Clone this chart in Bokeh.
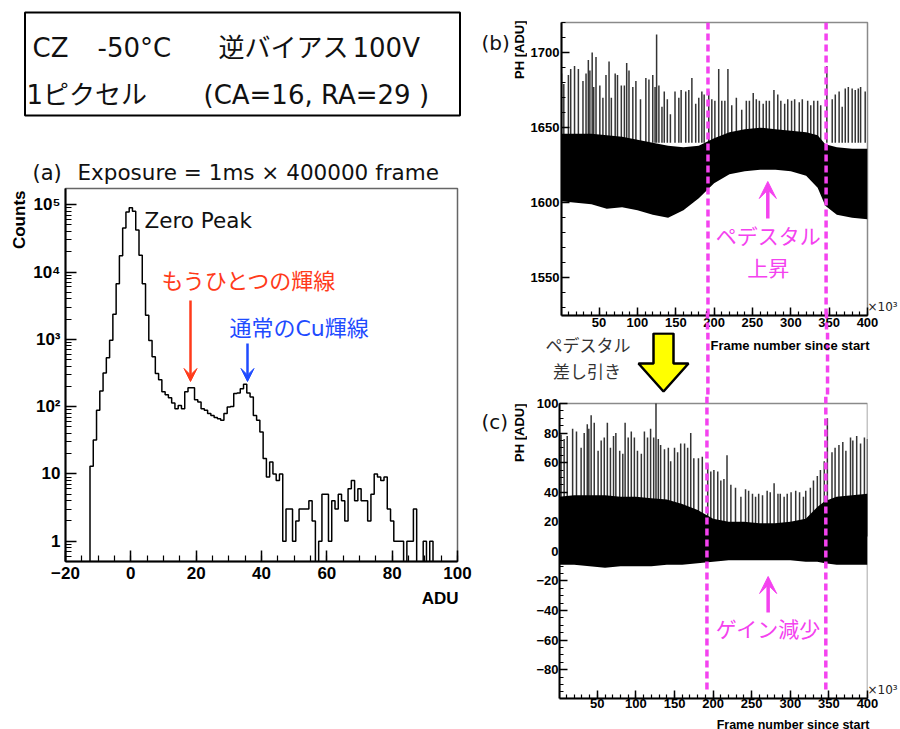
import math
from bokeh.plotting import figure
from bokeh.models import (Range1d, Label, Arrow, VeeHead, SingleIntervalTicker, LogTicker,
                          CustomJSTickFormatter, FixedTicker, LinearAxis, LinearScale)
from bokeh.layouts import row, column
from bokeh.embed import file_html
from bokeh.resources import INLINE

# ---------------- data ----------------
# (a) histogram: bin centres (ADU, bin width 1) and counts
adu_bins = list(range(-12, 93))
counts = [13, 32, 88, 170, 316, 530, 965, 2350, 6700, 17500, 45000, 78000,
          90000, 80000, 42000, 17700, 6700, 2270, 960, 550, 310, 250,
          166, 150, 135, 113, 93, 104, 93, 166, 191, 191, 127, 117, 93, 88,
          79, 74, 69, 66, 63, 79, 99, 100, 156, 160, 185, 215, 160, 139, 74,
          63, 42, 17, 9, 15, 10, 8, 10, 1, 3, 3, 1, 2, 3, 3, 3, 4, 2, 0, 1,
          5, 5, 1, 4, 3, 5, 4, 2, 6, 8, 4, 6, 4, 4, 2, 5, 10, 9, 8, 9, 3, 2,
          1, 1, 1, 0, 1, 1, 3, 0, 0, 1, 0, 1]
bin_width = 1.0

# (b),(c): envelope of the dense band (frame number in 10^3)
frame_pts = [0, 20, 40, 60, 80, 100, 120, 140, 160, 180, 200, 220, 240, 260,
             280, 300, 320, 335, 345, 360, 380, 400]
b_low = [1601, 1600, 1599, 1596, 1597, 1595, 1592, 1590, 1595, 1603, 1613,
         1619, 1621, 1622, 1622, 1621, 1618, 1610, 1598, 1592, 1590, 1589]
b_high = [1646, 1646, 1646, 1645, 1644, 1642, 1640, 1638, 1637, 1638, 1643,
          1647, 1649, 1650, 1649, 1648, 1647, 1645, 1639, 1637, 1636, 1636]
c_low = [-9, -9, -10, -11, -10, -10, -10, -9, -9, -8, -7, -6, -6, -6, -6, -6,
         -7, -7, -8, -9, -9, -9]
c_high = [37, 38, 38, 38, 37, 37, 36, 35, 32, 28, 22, 20, 20, 19, 19, 20, 22,
          30, 34, 37, 38, 39]

# isolated spikes: (frame, peak)
b_spikes = [(1, 1686), (4, 1679), (10, 1685), (13, 1689), (18, 1691), (23, 1689),
            (29, 1681), (33, 1686), (36, 1695), (38, 1688), (41, 1700), (43, 1677),
            (46, 1697), (51, 1678), (55, 1670), (59, 1685), (63, 1694), (66, 1670),
            (71, 1686), (74, 1685), (79, 1678), (83, 1678), (86, 1693), (89, 1688),
            (94, 1677), (98, 1681), (104, 1669), (111, 1683), (115, 1682), (120, 1685),
            (123, 1677), (125, 1712), (128, 1678), (132, 1664), (135, 1674), (139, 1669),
            (143, 1659), (149, 1674), (154, 1670), (157, 1675), (163, 1674), (167, 1675),
            (171, 1683), (176, 1666), (180, 1670), (184, 1674), (187, 1672), (193, 1674),
            (197, 1669), (201, 1668), (206, 1689), (210, 1668), (214, 1668), (218, 1689),
            (223, 1665), (229, 1670), (236, 1662), (242, 1668), (246, 1668), (251, 1673),
            (255, 1669), (259, 1668), (264, 1666), (268, 1668), (272, 1668), (278, 1675),
            (283, 1672), (287, 1668), (292, 1666), (296, 1669), (301, 1668), (305, 1669),
            (311, 1667), (315, 1669), (322, 1668), (326, 1665), (330, 1668), (335, 1668),
            (339, 1665), (347, 1691), (354, 1669), (358, 1672), (363, 1674), (367, 1664),
            (371, 1676), (375, 1677), (380, 1676), (384, 1675), (388, 1676), (391, 1677),
            (397, 1674)]
c_spikes = [(3, 79), (7, 76), (11, 78), (18, 83), (23, 81), (29, 70), (33, 80), (37, 86),
            (39, 83), (42, 92), (46, 87), (51, 68), (55, 75), (59, 77), (63, 87), (67, 70),
            (71, 78), (74, 80), (79, 68), (83, 66), (86, 87), (90, 77), (94, 81), (98, 77),
            (102, 68), (107, 66), (111, 81), (115, 77), (119, 83), (123, 77), (126, 100),
            (129, 76), (132, 72), (137, 69), (142, 70), (145, 61), (150, 70), (154, 67),
            (158, 73), (163, 73), (167, 70), (171, 80), (175, 63), (181, 63), (186, 64),
            (193, 59), (197, 54), (201, 55), (206, 54), (210, 48), (214, 49), (218, 65),
            (223, 45), (229, 43), (236, 37), (242, 42), (246, 41), (251, 39), (255, 37),
            (259, 39), (264, 38), (270, 41), (274, 40), (279, 46), (284, 39), (287, 39),
            (292, 37), (296, 39), (301, 40), (307, 41), (312, 40), (317, 37), (320, 41),
            (326, 43), (330, 48), (335, 51), (339, 55), (344, 61), (348, 90), (354, 67),
            (358, 70), (363, 72), (368, 74), (372, 68), (378, 77), (381, 75), (386, 78),
            (391, 73), (396, 77), (400, 76)]
shift_frames = [192, 346]   # pedestal change boundaries

# ---------------- style ----------------
ROOT_FONT = "Liberation Sans"
TXT_FONT = "DejaVu Sans, Noto Sans CJK JP"
RED = "#ff3a1a"
BLUE = "#1f4bff"
MAG = "#f442ef"
YEL = "#ffff00"
DASH = "7 4"
LEFT_W = 472
RIGHT_W = 900 - LEFT_W


def prep(p, grid=True):
    if "frame_align" in p.properties():
        p.frame_align = False
    p.title.visible = False
    if not grid:
        p.grid.grid_line_color = None
    p.background_fill_color = "white"
    p.border_fill_color = "white"


def style_axes(p, size, tmaj, tmin, standoff):
    for ax in p.axis:
        ax.major_label_text_font = ROOT_FONT
        ax.major_label_text_font_style = "bold"
        ax.major_label_text_font_size = size
        ax.major_label_text_color = "black"
        ax.major_tick_in = tmaj
        ax.major_tick_out = 0
        ax.minor_tick_in = tmin
        ax.minor_tick_out = 0
        ax.major_tick_line_width = 1.5
        ax.minor_tick_line_width = 1.2
        ax.axis_line_width = 2
        ax.axis_line_color = "black"
        ax.major_label_standoff = standoff
    p.grid.grid_line_color = None
    p.outline_line_color = "#8a8a8a"
    p.outline_line_width = 1.5


def strip(w, h, x0, y0):
    """A plain drawing area whose coordinates are page pixels (y downwards)."""
    s = figure(width=w, height=h, x_range=Range1d(x0, x0 + w), y_range=Range1d(y0 + h, y0),
               x_axis_location=None, y_axis_location=None, output_backend="svg",
               toolbar_location=None, min_border=0)
    prep(s, grid=False)
    s.outline_line_color = None
    return s


def lab(p, x, y, text, size, color="black", font=TXT_FONT, style="normal",
        align="left", baseline="alphabetic", angle=0.0, px=False):
    kw = dict(x_range_name="px", y_range_name="py") if px else {}
    p.add_layout(Label(x=x, y=y, text=text, text_font=font, text_font_size=size,
                       text_font_style=style, text_color=color, text_align=align,
                       text_baseline=baseline, angle=angle, **kw))


def exp_axis(p, lo, hi):
    """Right-hand '×10³' multiplier placed at the lower end of the y axis."""
    ax = LinearAxis(ticker=FixedTicker(ticks=[]), axis_label="×10³\n\u00a0",
                    axis_line_color=None, major_tick_in=0, major_tick_out=0,
                    minor_tick_in=0, minor_tick_out=0, major_label_standoff=0,
                    axis_label_standoff=0, axis_label_text_font=TXT_FONT,
                    axis_label_text_font_size="12px", axis_label_text_color="#222",
                    axis_label_text_font_style="normal",
                    axis_label_orientation="horizontal", bounds=(lo, hi))
    if "axis_label_align" in ax.properties():
        try:
            ax.axis_label_align = "start"
        except Exception:
            pass
    p.add_layout(ax, "right")


# ---------------- title block (left top) ----------------
pt = strip(LEFT_W, 184, 0, 0)
pt.quad(left=[24.5], right=[459.5], top=[12], bottom=[115], fill_color=None,
        line_color="black", line_width=2)
for x, t in [(32, "CZ"), (97, "-50°C"), (218, "逆バイアス"), (352, "100V")]:
    lab(pt, x, 47, t, "26px", color="#111")
for x, t in [(26, "1ピクセル"), (203, "(CA=16, RA=29 )")]:
    lab(pt, x, 94, t, "26px", color="#111")
lab(pt, 32, 172, "(a)", "21px", color="#111")
lab(pt, 77, 172, "Exposure = 1ms × 400000 frame", "21.5px", color="#111")

# ---------------- (a) histogram ----------------
sH = strip(30, 402, 0, 184)
lab(sH, 18.5, 190, "Counts", "17px", font=ROOT_FONT, style="bold", align="right",
    baseline="middle", angle=math.pi / 2)

ph = figure(width=LEFT_W - 30, height=402, x_range=Range1d(-20, 100),
            y_range=Range1d(0.5, 1.74e5), y_axis_type="log",
            output_backend="svg", toolbar_location=None,
            min_border_left=35, min_border_right=LEFT_W - 457, min_border_top=4,
            min_border_bottom=25)
prep(ph)
ph.extra_x_ranges = {"px": Range1d(65, 457)}
ph.extra_y_ranges = {"py": Range1d(561, 188)}
if "extra_y_scales" in ph.properties():
    ph.extra_y_scales = {"py": LinearScale()}
    ph.extra_x_scales = {"px": LinearScale()}
ph.xaxis.ticker = SingleIntervalTicker(interval=20, num_minor_ticks=4)
ph.yaxis.ticker = LogTicker(num_minor_ticks=10)
ph.yaxis.formatter = CustomJSTickFormatter(code="""
const sup = {2: "\u00b2", 3: "\u00b3", 4: "\u2074", 5: "\u2075", 6: "\u2076"};
const e = Math.round(Math.log10(tick));
if (e == 0) return "1";
if (e == 1) return "10";
return "10" + (sup[e] || "");
""")
style_axes(ph, "17px", 11, 6, 5)
ph.outline_line_color = "#666666"

floor = 0.1
hx = [adu_bins[0] - bin_width / 2]
hy = [floor]
for b, c in zip(adu_bins, counts):
    v = c if c > 0 else floor
    hx += [b - bin_width / 2, b + bin_width / 2]
    hy += [v, v]
hx.append(adu_bins[-1] + bin_width / 2)
hy.append(floor)
ph.line(hx, hy, line_color="black", line_width=1.5)

lab(ph, 144, 220, "Zero Peak", "21.5px", color="#111", px=True)
lab(ph, 161, 281, "もうひとつの輝線", "22px", color=RED, baseline="middle", px=True)
lab(ph, 229, 327.5, "通常のCu輝線", "22px", color=BLUE, baseline="middle", px=True)
ph.add_layout(Arrow(end=VeeHead(size=13, fill_color=RED, line_color=RED, line_width=1),
                    x_start=190, y_start=300, x_end=190, y_end=381,
                    x_range_name="px", y_range_name="py", line_color=RED, line_width=2.5))
ph.add_layout(Arrow(end=VeeHead(size=13, fill_color=BLUE, line_color=BLUE, line_width=1),
                    x_start=247, y_start=343, x_end=247, y_end=381,
                    x_range_name="px", y_range_name="py", line_color=BLUE, line_width=2.5))

sA = strip(LEFT_W, 143, 0, 586)
lab(sA, 458, 598, "ADU", "17px", font=ROOT_FONT, style="bold", align="right")

# ---------------- (b) raw pulse height ----------------
sB = strip(527 - LEFT_W, 332, LEFT_W, 0)
lab(sB, 481, 42, "(b)", "20px", color="#111")
lab(sB, 519, 20, "PH [ADU]", "13px", font=ROOT_FONT, style="bold", align="right",
    baseline="middle", angle=math.pi / 2)

pb = figure(width=900 - 527, height=332, x_range=Range1d(1, 400), y_range=Range1d(1525, 1720),
            output_backend="svg", toolbar_location=None,
            min_border_left=32, min_border_right=31, min_border_top=22,
            min_border_bottom=17)
prep(pb)
pb.extra_x_ranges = {"px": Range1d(559, 869)}
pb.extra_y_ranges = {"py": Range1d(315, 22)}
pb.xaxis.ticker = SingleIntervalTicker(interval=50, num_minor_ticks=5)
pb.yaxis.ticker = SingleIntervalTicker(interval=50, num_minor_ticks=5)
style_axes(pb, "13px", 8, 4, 2)
exp_axis(pb, 1525, 1720)
# boundary markers continuing through the tick-label strip (minor ticks carry no labels)
pb.add_layout(LinearAxis(ticker=FixedTicker(ticks=[], minor_ticks=shift_frames),
                         axis_line_color=None, major_tick_in=0, major_tick_out=0,
                         minor_tick_in=17, minor_tick_out=0, minor_tick_line_color=MAG,
                         minor_tick_line_width=3.5, minor_tick_line_dash=DASH,
                         major_label_standoff=0), "below")

bsx = [s[0] for s in b_spikes]
bsy = [s[1] for s in b_spikes]
pb.segment(x0=bsx, y0=1640, x1=bsx, y1=bsy, line_color="#111111",
           line_alpha=0.85, line_width=1.5)
pb.varea(x=frame_pts, y1=b_low, y2=b_high, fill_color="black")
pb.segment(x0=shift_frames, y0=1720, x1=shift_frames, y1=1525, line_color=MAG,
           line_width=3.5, line_dash=DASH)
pb.add_layout(Arrow(end=VeeHead(size=17, fill_color=MAG, line_color=MAG, line_width=1),
                    x_start=768, y_start=218, x_end=768, y_end=181,
                    x_range_name="px", y_range_name="py", line_color=MAG, line_width=3.5))
lab(pb, 768.5, 236, "ペデスタル", "21px", color=MAG, align="center", baseline="middle", px=True)
lab(pb, 768.5, 268, "上昇", "21px", color=MAG, align="center", baseline="middle", px=True)

# ---------------- gap strip between (b) and (c) ----------------
sx = 310.0 / 399.0
pg = figure(width=RIGHT_W, height=64,
            x_range=Range1d(1 - (559 - LEFT_W) / sx, 400 + 31 / sx),
            y_range=Range1d(396, 332), x_axis_location=None, y_axis_location=None,
            output_backend="svg", toolbar_location=None, min_border=0)
prep(pg, grid=False)
pg.outline_line_color = None
pg.extra_x_ranges = {"px": Range1d(LEFT_W, 900)}
pg.segment(x0=shift_frames, y0=332, x1=shift_frames, y1=396, line_color=MAG,
           line_width=3.5, line_dash=DASH)
pg.patch(x=[653, 673, 673, 688, 663, 638, 653], y=[333, 333, 363, 363, 391, 363, 363],
         x_range_name="px", fill_color=YEL, line_color="black", line_width=2.5)
for x, y, t, kw in [(869, 345, "Frame number since start",
                     dict(size="13px", font=ROOT_FONT, style="bold", align="right")),
                    (587.5, 345.5, "ペデスタル",
                     dict(size="17px", color="#333", align="center", baseline="middle")),
                    (586.5, 371, "差し引き",
                     dict(size="17px", color="#333", align="center", baseline="middle"))]:
    pg.add_layout(Label(x=x, y=y, text=t, x_range_name="px",
                        text_font=kw.get("font", TXT_FONT), text_font_size=kw["size"],
                        text_font_style=kw.get("style", "normal"),
                        text_color=kw.get("color", "black"), text_align=kw["align"],
                        text_baseline=kw.get("baseline", "alphabetic")))

# ---------------- (c) pedestal subtracted ----------------
sC = strip(527 - LEFT_W, 316, LEFT_W, 396)
lab(sC, 481, 421, "(c)", "20px", color="#111")
lab(sC, 519, 403, "PH [ADU]", "13px", font=ROOT_FONT, style="bold", align="right",
    baseline="middle", angle=math.pi / 2)

c_top = 100 + 7 / (295 / 199.5)
pc = figure(width=900 - 527, height=316, x_range=Range1d(1, 400),
            y_range=Range1d(-99.5, c_top),
            output_backend="svg", toolbar_location=None,
            min_border_left=32, min_border_right=31, min_border_top=0,
            min_border_bottom=14)
prep(pc)
pc.extra_x_ranges = {"px": Range1d(559, 869)}
pc.extra_y_ranges = {"py": Range1d(698, 396)}
pc.xaxis.ticker = SingleIntervalTicker(interval=50, num_minor_ticks=5)
pc.yaxis.ticker = SingleIntervalTicker(interval=20, num_minor_ticks=4)
style_axes(pc, "13px", 8, 4, 1)
pc.xaxis.major_label_standoff = 0
pc.yaxis.bounds = (-99.5, 100)
pc.outline_line_color = None
exp_axis(pc, -99.5, 100)

pc.quad(left=[1], right=[400], bottom=[-99.5], top=[100], fill_color=None,
        line_color="#8a8a8a", line_width=1.5)
csx = [s[0] for s in c_spikes]
csy = [s[1] for s in c_spikes]
pc.segment(x0=csx, y0=10, x1=csx, y1=csy, line_color="#111111",
           line_alpha=0.85, line_width=1.5)
pc.varea(x=frame_pts, y1=c_low, y2=c_high, fill_color="black")
pc.segment(x0=shift_frames, y0=c_top, x1=shift_frames, y1=-94, line_color=MAG,
           line_width=3.5, line_dash=DASH)
pc.add_layout(Arrow(end=VeeHead(size=17, fill_color=MAG, line_color=MAG, line_width=1),
                    x_start=769, y_start=612, x_end=769, y_end=576,
                    x_range_name="px", y_range_name="py", line_color=MAG, line_width=3.5))
lab(pc, 769, 629, "ゲイン減少", "21px", color=MAG, align="center", baseline="middle", px=True)

sF = strip(RIGHT_W, 17, LEFT_W, 712)
lab(sF, 869, 724, "Frame number since start", "12.5px", font=ROOT_FONT, style="bold",
    align="right")

layout = row(column(pt, row(sH, ph), sA),
             column(row(sB, pb), pg, row(sC, pc), sF))
open("out.html", "w").write(file_html(layout, INLINE))
